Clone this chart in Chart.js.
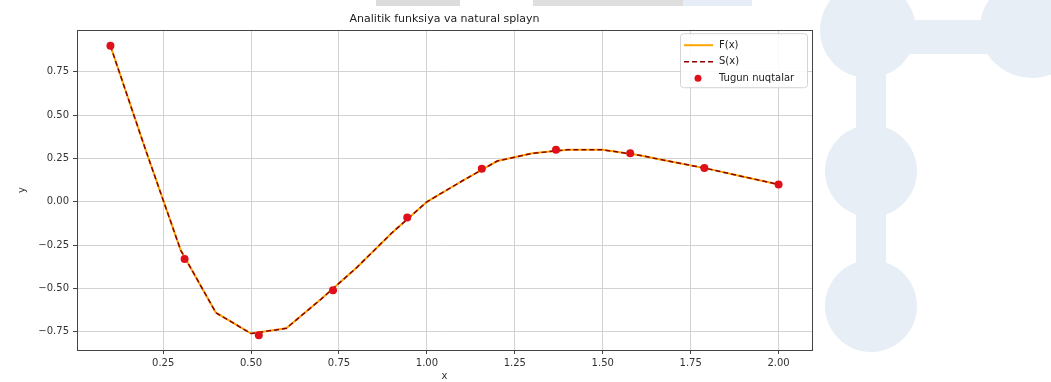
<!DOCTYPE html>
<html>
<head>
<meta charset="utf-8">
<script src="https://cdn.jsdelivr.net/npm/chart.js@4/dist/chart.umd.min.js"></script>
<style>
  html, body { margin:0; padding:0; background:#ffffff; }
  #wrap { position:relative; width:1051px; height:382px; overflow:hidden; }
  .wm { position:absolute; background:#e7eef6; }
  .strip { position:absolute; top:0; height:6px; }
  canvas { position:absolute; left:0; top:0; }
</style>
</head>
<body>
<div id="wrap">
  <!-- background decoration (watermark) -->
  <div class="wm" style="left:820px;top:-18px;width:96px;height:96px;border-radius:50%"></div>
  <div class="wm" style="left:980px;top:-22px;width:104px;height:100px;border-radius:50%"></div>
  <div class="wm" style="left:900px;top:20px;width:100px;height:34px"></div>
  <div class="wm" style="left:856px;top:60px;width:30px;height:90px"></div>
  <div class="wm" style="left:825px;top:125px;width:92px;height:92px;border-radius:50%"></div>
  <div class="wm" style="left:856px;top:200px;width:30px;height:80px"></div>
  <div class="wm" style="left:825px;top:260px;width:92px;height:92px;border-radius:50%"></div>
  <div class="strip" style="left:376px;width:84px;background:#dcdcdc"></div>
  <div class="strip" style="left:533px;width:150px;background:#dedede"></div>
  <div class="strip" style="left:683px;width:69px;background:#e6edf7"></div>
  <canvas id="c" width="1051" height="382"></canvas>
</div>
<script>
// ---- data ----
const xFine = [0.1, 0.2, 0.3, 0.4, 0.5, 0.6, 0.7, 0.8, 0.9, 1.0,
               1.1, 1.2, 1.3, 1.4, 1.5, 1.6, 1.7, 1.8, 1.9, 2.0];
const fValues = [0.90, 0.30, -0.28, -0.64, -0.76, -0.73, -0.56, -0.38, -0.18, 0.00,
                 0.12, 0.235, 0.28, 0.30, 0.30, 0.27, 0.23, 0.19, 0.145, 0.10];
const sValues = [0.90, 0.30, -0.28, -0.64, -0.76, -0.73, -0.56, -0.38, -0.18, 0.00,
                 0.12, 0.235, 0.28, 0.30, 0.30, 0.27, 0.23, 0.19, 0.145, 0.10];
const xNodes = [0.1, 0.311, 0.522, 0.733, 0.944, 1.156, 1.367, 1.578, 1.789, 2.0];
const yNodes = [0.90, -0.33, -0.77, -0.51, -0.09, 0.19, 0.30, 0.28, 0.195, 0.10];
const seriesLabels = ['F(x)', 'S(x)', 'Tugun nuqtalar'];
const chartTitle = 'Analitik funksiya va natural splayn';
const xTitle = 'x';
const yTitle = 'y';

const toPts = (xs, ys) => xs.map((x, i) => ({ x: x, y: ys[i] }));
const fmt = v => v.toFixed(2).replace('-', '\u2212');
const FONT = "'DejaVu Sans', sans-serif";

const spinePlugin = {
  id: 'spines',
  afterDatasetsDraw(chart) {
    const a = chart.chartArea, ctx = chart.ctx;
    ctx.save();
    ctx.strokeStyle = '#444';
    ctx.lineWidth = 1;
    ctx.strokeRect(Math.round(a.left) + 0.5, Math.round(a.top) + 0.5,
                   Math.round(a.right - a.left), Math.round(a.bottom - a.top));
    ctx.restore();
  }
};

const legendPlugin = {
  id: 'mplLegend',
  afterDraw(chart) {
    const ctx = chart.ctx, a = chart.chartArea;
    const bx = a.right - 132, by = a.top + 3, bw = 127, bh = 54;
    ctx.save();
    ctx.fillStyle = 'rgba(255,255,255,0.85)';
    ctx.strokeStyle = '#d4d4d4';
    ctx.lineWidth = 1;
    ctx.beginPath();
    ctx.roundRect(bx + 0.5, by + 0.5, bw, bh, 3);
    ctx.fill();
    ctx.stroke();
    ctx.font = '10px ' + FONT;
    ctx.textBaseline = 'middle';
    chart.data.datasets.forEach((ds, i) => {
      const y = by + 12 + i * 16.5;
      if (ds.showLine === false) {
        ctx.fillStyle = ds.pointBackgroundColor;
        ctx.beginPath();
        ctx.arc(bx + 18, y, 3.5, 0, Math.PI * 2);
        ctx.fill();
      } else {
        ctx.strokeStyle = ds.borderColor;
        ctx.lineWidth = ds.borderWidth;
        ctx.setLineDash(ds.borderDash || []);
        ctx.beginPath();
        ctx.moveTo(bx + 4, y);
        ctx.lineTo(bx + 33, y);
        ctx.stroke();
        ctx.setLineDash([]);
      }
      ctx.fillStyle = '#222';
      ctx.fillText(ds.label, bx + 39, y);
    });
    ctx.restore();
  }
};

new Chart(document.getElementById('c'), {
  type: 'scatter',
  data: {
    datasets: [
      {
        label: seriesLabels[0],
        data: toPts(xFine, fValues),
        showLine: true,
        borderColor: '#ffa500',
        backgroundColor: '#ffa500',
        borderWidth: 2,
        pointRadius: 0,
        order: 3
      },
      {
        label: seriesLabels[1],
        data: toPts(xFine, sValues),
        showLine: true,
        borderColor: '#8b0000',
        backgroundColor: '#8b0000',
        borderWidth: 1.5,
        borderDash: [5, 3],
        pointRadius: 0,
        order: 2
      },
      {
        label: seriesLabels[2],
        data: toPts(xNodes, yNodes),
        showLine: false,
        pointRadius: 4,
        pointBackgroundColor: '#e0101a',
        pointBorderColor: '#e0101a',
        pointBorderWidth: 0,
        order: 1
      }
    ]
  },
  options: {
    responsive: false,
    animation: false,
    devicePixelRatio: 1,
    layout: { padding: { left: 0, right: 239, top: 0, bottom: 0 } },
    plugins: {
      legend: { display: false },
      tooltip: { enabled: false },
      title: {
        display: true,
        text: chartTitle,
        fullSize: false,
        color: '#222',
        font: { family: FONT, size: 11, weight: 'normal' },
        padding: { top: 13, bottom: 4 }
      }
    },
    scales: {
      x: {
        type: 'linear',
        min: 0.005,
        max: 2.095,
        afterFit: s => { s.height = 32; },
        border: { display: false },
        grid: { color: '#d3d3d3', lineWidth: 1, tickLength: 4, tickColor: '#444', drawTicks: true },
        ticks: {
          stepSize: 0.25,
          includeBounds: false,
          padding: 3,
          color: '#333',
          maxRotation: 0,
          font: { family: FONT, size: 10 },
          callback: v => fmt(v)
        },
        title: {
          display: true, text: xTitle, color: '#333',
          font: { family: FONT, size: 10 },
          padding: { top: 0, bottom: 0 }
        }
      },
      y: {
        type: 'linear',
        min: -0.855,
        max: 0.99,
        afterFit: s => { s.width = 77; },
        border: { display: false },
        grid: { color: '#d3d3d3', lineWidth: 1, tickLength: 4, tickColor: '#444', drawTicks: true },
        ticks: {
          stepSize: 0.25,
          includeBounds: false,
          padding: 4,
          color: '#333',
          font: { family: FONT, size: 10 },
          callback: v => fmt(v)
        },
        title: {
          display: true, text: yTitle, color: '#333',
          font: { family: FONT, size: 10 },
          padding: { top: 16, bottom: 0 }
        }
      }
    }
  },
  plugins: [spinePlugin, legendPlugin]
});
</script>
</body>
</html>
